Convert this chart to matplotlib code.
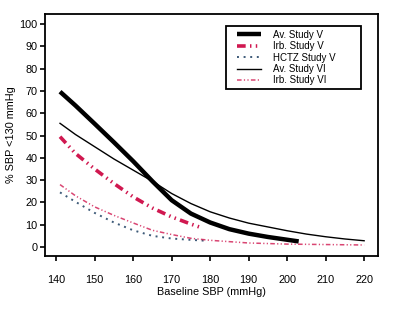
import matplotlib
matplotlib.use('Agg')
import matplotlib.pyplot as plt
from matplotlib.patches import Rectangle

plt.rcParams['font.family'] = ['Liberation Sans', 'DejaVu Sans']

# Data
av5_x = [141, 145, 150, 155, 160, 165, 170, 175, 180, 185, 190, 195, 203]
av5_y = [69.7, 63.5, 55.3, 47, 38.5, 29.5, 21, 15, 11, 8, 6, 4.5, 2.5]

irb5_x = [141, 145, 150, 155, 160, 165, 170, 175, 178]
irb5_y = [49.5, 42, 35, 28.5, 22.5, 17.5, 13.5, 10.3, 8.5]

hctz5_x = [141, 145, 150, 155, 160, 165, 170, 175, 179]
hctz5_y = [24.5, 20.3, 15.3, 11, 7.5, 5, 3.8, 3.2, 2.8]

av6_x = [141, 145, 150, 155, 160, 165, 170, 175, 180, 185, 190, 195, 200, 205, 210, 215, 220]
av6_y = [55.5, 50.5, 45, 39.5, 34.5, 29.5, 24, 19.5, 15.8, 13, 10.7, 9, 7.3, 5.8, 4.6, 3.6, 2.8]

irb6_x = [141, 145, 150, 155, 160, 165, 170, 175, 180, 185, 190, 200, 210, 220]
irb6_y = [28, 23, 18, 14.2, 10.8, 7.5, 5.6, 3.9, 3, 2.4, 1.8, 1.3, 1.1, 0.9]

x_ticks = [140, 150, 160, 170, 180, 190, 200, 210, 220]
y_ticks = [0, 10, 20, 30, 40, 50, 60, 70, 80, 90, 100]

red = '#d01850'

fig = plt.figure(figsize=(4, 3.14), dpi=100)
ax = fig.add_axes([0.1125, 0.185, 0.8325, 0.77])

ax.plot(av5_x, av5_y, color='black', lw=3.2, label='Av. Study V', solid_capstyle='butt')
ax.plot(irb5_x, irb5_y, color=red, lw=2.6, dashes=(2.4, 1.2, 0.4, 1.2, 0.4, 1.2),
        label='Irb. Study V')
ax.plot(hctz5_x, hctz5_y, color='#3d5a78', lw=1.4, dashes=(1, 2.4), label='HCTZ Study V')
ax.plot(av6_x, av6_y, color='black', lw=1.0, label='Av. Study VI')
ax.plot(irb6_x, irb6_y, color=red, lw=1.1, alpha=0.8, dashes=(3, 1.5, 0.8, 1.5, 0.8, 1.5),
        label='Irb. Study VI')

ax.set_xlim(137.1, 223.6)
ax.set_ylim(-4, 104.5)
ax.set_xticks(x_ticks)
ax.set_yticks(y_ticks)
ax.tick_params(axis='x', labelsize=7.8, length=3.5, width=1.2, pad=10.5)
ax.tick_params(axis='y', labelsize=7.8, length=3.5, width=1.2, pad=2)
for s in ax.spines.values():
    s.set_linewidth(1.3)

ax.set_xlabel('Baseline SBP (mmHg)', fontsize=7.8, labelpad=1.5)
ax.set_ylabel('% SBP <130 mmHg', fontsize=7.8, labelpad=2)

# legend without its own frame, box drawn separately to match the wider frame
ax.legend(loc='upper left', bbox_to_anchor=(0.577, 0.936), fontsize=7,
          frameon=False, handlelength=2.47, handletextpad=1.2,
          labelspacing=0.15, borderpad=0, borderaxespad=0)
ax.add_patch(Rectangle((0.5435, 0.69), 0.4055, 0.26, transform=ax.transAxes,
                       fill=False, edgecolor='black', lw=1.3, zorder=5))

fig.savefig('out.png', dpi=100)
